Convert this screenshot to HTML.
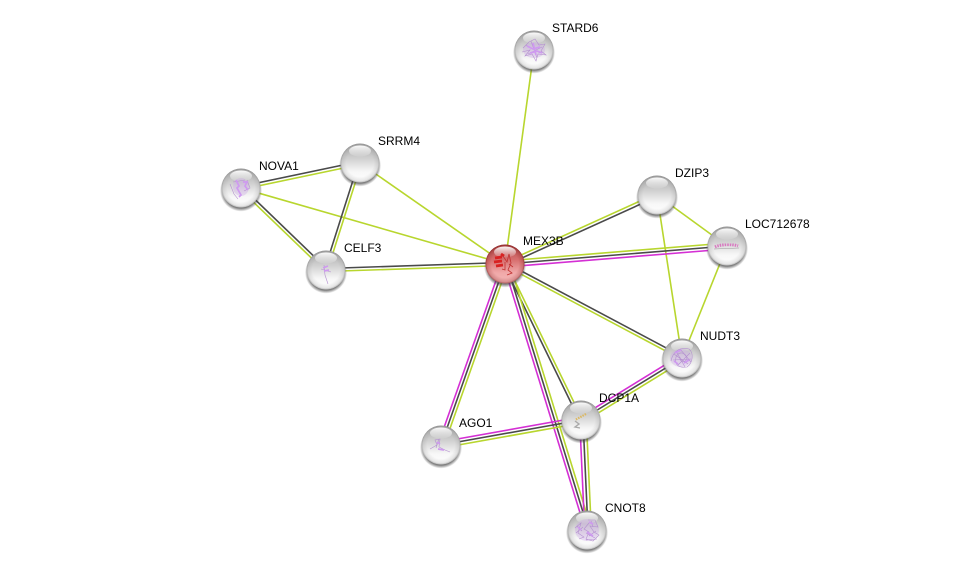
<!DOCTYPE html>
<html><head><meta charset="utf-8">
<style>
html,body{margin:0;padding:0;background:#fff;width:975px;height:575px;overflow:hidden}
svg{display:block}
text{font-family:"Liberation Sans",sans-serif;font-size:12px;fill:#000}
.g{stroke:#b8d62e}.d{stroke:#4a4a4a}.m{stroke:#d42fd4}
line{stroke-width:1.6;fill:none}
.p{fill:none;stroke:#b48fd0;stroke-width:.6}
.pb{fill:none;stroke:#cf9af0;stroke-width:1.7}
.bl{fill:#c8a4e4;opacity:.35}
.st{filter:url(#soft)}
</style></head><body>
<svg width="975" height="575" viewBox="0 0 975 575" xmlns="http://www.w3.org/2000/svg">
<defs>
<filter id="soft" x="-20%" y="-20%" width="140%" height="140%"><feGaussianBlur stdDeviation=".35"/></filter>
<linearGradient id="b" x1="0" y1="0" x2="0" y2="1">
<stop offset="0" stop-color="#a8a8a8"/><stop offset=".4" stop-color="#d2d2d2"/><stop offset=".72" stop-color="#f7f7f7"/><stop offset="1" stop-color="#ffffff"/>
</linearGradient>
<linearGradient id="r" x1="0" y1="0" x2="0" y2="1">
<stop offset="0" stop-color="#b04a4a"/><stop offset=".4" stop-color="#d87070"/><stop offset=".72" stop-color="#f0a8a8"/><stop offset="1" stop-color="#f4b8b8"/>
</linearGradient>
<radialGradient id="rim" cx="50%" cy="50%" r="50%">
<stop offset=".7" stop-color="#888" stop-opacity="0"/><stop offset=".92" stop-color="#888" stop-opacity=".2"/><stop offset="1" stop-color="#777" stop-opacity=".55"/>
</radialGradient>
<radialGradient id="rimr" cx="50%" cy="50%" r="50%">
<stop offset=".7" stop-color="#801818" stop-opacity="0"/><stop offset=".92" stop-color="#801818" stop-opacity=".25"/><stop offset="1" stop-color="#701010" stop-opacity=".6"/>
</radialGradient>
<linearGradient id="h" x1="0" y1="0" x2="0" y2="1">
<stop offset="0" stop-color="#fff" stop-opacity=".95"/><stop offset="1" stop-color="#fff" stop-opacity=".08"/>
</linearGradient>
<radialGradient id="s" cx="50%" cy="50%" r="50%">
<stop offset=".84" stop-color="#444" stop-opacity=".7"/><stop offset="1" stop-color="#444" stop-opacity="0"/>
</radialGradient>
<g id="sphere">
<circle cx="0" cy="2.5" r="21" fill="url(#s)"/>
<circle r="19.5" fill="url(#b)"/>
<circle r="19.5" fill="url(#rim)"/>
<ellipse cx="0" cy="-12" rx="11" ry="5.5" fill="url(#h)"/>
</g>
<g id="redsphere">
<circle cx="0" cy="2.5" r="21" fill="url(#s)"/>
<circle r="19.5" fill="url(#r)"/>
<circle r="19.5" fill="url(#rimr)"/>
<ellipse cx="0" cy="-12" rx="11" ry="5.5" fill="url(#h)"/>
</g>
</defs>

<!-- single -->
<line class="g" x1="505" y1="264" x2="534" y2="50"/>
<line class="g" x1="360" y1="163" x2="505" y2="264"/>
<line class="g" x1="241" y1="188" x2="505" y2="264"/>
<line class="g" x1="657" y1="195" x2="727" y2="246"/>
<line class="g" x1="657" y1="195" x2="682" y2="358"/>
<line class="g" x1="727" y1="246" x2="682" y2="358"/>

<!-- NOVA1-SRRM4 -->
<line class="d" x1="240.7" y1="186.5" x2="359.7" y2="161.5"/>
<line class="g" x1="241.3" y1="189.5" x2="360.3" y2="164.5"/>
<!-- NOVA1-CELF3 -->
<line class="d" x1="242.1" y1="187" x2="327.1" y2="269"/>
<line class="g" x1="239.9" y1="189" x2="324.9" y2="271"/>
<!-- SRRM4-CELF3 -->
<line class="d" x1="358.6" y1="162.6" x2="324.6" y2="269.6"/>
<line class="g" x1="361.4" y1="163.4" x2="327.4" y2="270.4"/>
<!-- CELF3-MEX3B -->
<line class="d" x1="326" y1="268.5" x2="505" y2="262.5"/>
<line class="g" x1="326" y1="271.5" x2="505" y2="265.5"/>
<!-- MEX3B-DZIP3 -->
<line class="d" x1="505.6" y1="265.4" x2="657.6" y2="196.4"/>
<line class="g" x1="504.4" y1="262.6" x2="656.4" y2="193.6"/>
<!-- MEX3B-LOC -->
<line class="g" x1="504.8" y1="261" x2="726.8" y2="243"/>
<line class="d" x1="505" y1="264" x2="727" y2="246"/>
<line class="m" x1="505.2" y1="267" x2="727.2" y2="249"/>
<!-- MEX3B-NUDT3 -->
<line class="d" x1="505.7" y1="262.7" x2="682.7" y2="356.7"/>
<line class="g" x1="504.3" y1="265.3" x2="681.3" y2="359.3"/>
<!-- MEX3B-DCP1A -->
<line class="d" x1="503.7" y1="264.6" x2="579.7" y2="420.6"/>
<line class="g" x1="506.3" y1="263.4" x2="582.3" y2="419.4"/>
<!-- MEX3B-AGO1 -->
<line class="m" x1="502.2" y1="263" x2="438.2" y2="444"/>
<line class="d" x1="505" y1="264" x2="441" y2="445"/>
<line class="g" x1="507.8" y1="265" x2="443.8" y2="446"/>
<!-- MEX3B-CNOT8 -->
<line class="m" x1="503.6" y1="264.9" x2="585.6" y2="530.9"/>
<line class="d" x1="506.5" y1="264" x2="588.5" y2="530"/>
<line class="g" x1="509.4" y1="263.1" x2="591.4" y2="529.1"/>
<!-- DCP1A-CNOT8 -->
<line class="m" x1="579.7" y1="420" x2="584.7" y2="530"/>
<line class="d" x1="583" y1="420" x2="588" y2="530"/>
<line class="g" x1="586.3" y1="420" x2="591.3" y2="530"/>
<!-- AGO1-DCP1A -->
<line class="m" x1="440.5" y1="442" x2="580.5" y2="417"/>
<line class="d" x1="441" y1="445" x2="581" y2="420"/>
<line class="g" x1="441.5" y1="448" x2="581.5" y2="423"/>
<!-- DCP1A-NUDT3 -->
<line class="m" x1="579.4" y1="417.4" x2="680.4" y2="355.4"/>
<line class="d" x1="581" y1="420" x2="682" y2="358"/>
<line class="g" x1="582.6" y1="422.6" x2="683.6" y2="360.6"/>

<!-- nodes -->
<use href="#sphere" x="534" y="50"/>
<use href="#sphere" x="360" y="163"/>
<use href="#sphere" x="241" y="188"/>
<use href="#sphere" x="326" y="270"/>
<use href="#sphere" x="657" y="195"/>
<use href="#sphere" x="727" y="246"/>
<use href="#sphere" x="682" y="358"/>
<use href="#sphere" x="581" y="420"/>
<use href="#sphere" x="441" y="445"/>
<use href="#sphere" x="587" y="530"/>
<use href="#redsphere" x="505" y="264"/>

<!-- protein structures -->
<g class="st" transform="translate(534,50)">
<ellipse class="bl" cx="0" cy="0" rx="11" ry="8"/>
<path class="p" d="M-11,-2 L-5,-8 L1,-11 L5,-5 L11,-6 L7,1 L12,5 L4,4 L2,11 L-2,4 L-9,6 L-4,0 L-12,2 M-8,-5 L6,3 M-6,4 L8,-3 M-3,-9 L3,8"/>
<path class="pb" d="M-7,-4 L-1,-1 L6,-3 M-4,3 L3,1 L8,3 M-1,-7 L2,5"/>
</g>
<g class="st" transform="translate(241,188)">
<ellipse class="bl" cx="0" cy="-1" rx="8" ry="9"/>
<path class="p" d="M-11,-4 L-7,6 L-3,11 M6,-8 L9,0 L3,3 M-8,-6 L4,-8"/>
<path class="pb" d="M-5,-8 L-2,-2 L-4,0 L0,7 L-2,9 M2,-6 L6,-6 L4,-2 L7,2"/>
</g>
<g class="st" transform="translate(326,270)">
<path class="p" d="M-2,-5 L-1,5 L2,14 M-5,-1 L5,2"/>
<path class="pb" d="M-3,-2 L2,-4 M-2,1 L3,0"/>
</g>
<g class="st" transform="translate(727,246)">
<path fill="none" stroke="#d878c0" stroke-width="3" stroke-dasharray="1.5 1" d="M-12,1 C-6,-2 6,-2 11,0"/>
<path fill="none" stroke="#999" stroke-width=".6" d="M-13,3 L12,2"/>
</g>
<g class="st" transform="translate(682,358)">
<ellipse class="bl" cx="-1" cy="0" rx="11" ry="9"/>
<path class="p" d="M-11,3 C-9,-7 -2,-11 7,-9 C12,-5 11,5 5,9 C-2,10 -8,8 -6,-1 C-3,-7 3,-6 5,0 C3,6 -3,4 -2,-1"/>
<path class="p" d="M-8,-4 L6,6 M-4,7 L8,-5 M-9,2 L9,1 M-6,-7 L3,9 M-2,-9 L9,4"/>
<path class="pb" stroke-width="1" d="M-7,-5 L-1,-8 M-8,3 L-4,6 M2,5 L7,2"/>
</g>
<g class="st" transform="translate(581,420)">
<path fill="none" stroke="#dcb860" stroke-width="2.2" stroke-dasharray="1.5 1" d="M5,-6 L-6,0"/>
<path fill="none" stroke="#aaa" stroke-width="1.4" d="M-6,1 L-2,4 L-6,7 L-1,8"/>
</g>
<g class="st" transform="translate(441,445)">
<path class="p" d="M-11,4 L-4,0 L-6,-5 L-1,-6 L-2,2 L4,5 L9,7 M-2,-6 L-5,3"/>
<path class="pb" stroke-width="1.2" d="M-4,-3 L-1,-1 M-3,4 L3,5"/>
</g>
<g class="st" transform="translate(587,530)">
<ellipse class="bl" cx="0" cy="0" rx="12" ry="11"/>
<path class="p" d="M-12,-2 L-6,-7 L-9,3 L-3,7 L-8,9 M1,-10 L8,-10 L11,-3 L3,-4 L7,2 L12,5 L6,11 L-1,9 L2,2 L-3,-1 L2,-7"/>
<path class="p" d="M-10,-4 L-5,1 M4,-9 L6,-3 M-1,3 L8,8 M2,6 L9,1 M-1,10 L10,9 M-11,3 L-4,-3"/>
<path class="pb" stroke-width="1.2" d="M-9,-3 L-6,0 M2,-8 L6,-6 M0,2 L6,6"/>
</g>
<!-- red structure -->
<g class="st" transform="translate(505,264)">
<path fill="none" stroke="#d82020" stroke-width="2.8" d="M-10,-6 L-3,-7 M-11,-2 L-3,-3 M-9,2 L-2,1 M-4,-10 L-1,-8"/>
<path fill="none" stroke="#c03030" stroke-width=".8" d="M-2,-8 L2,-2 L4,-10 L6,-1 L3,6 L7,9 L2,11 M0,-2 L0,6 L-3,5 M4,0 L8,3"/>
</g>

<!-- labels -->
<text x="552" y="32">STARD6</text>
<text x="378" y="145">SRRM4</text>
<text x="259" y="170">NOVA1</text>
<text x="675" y="177">DZIP3</text>
<text x="745" y="228">LOC712678</text>
<text x="523" y="245">MEX3B</text>
<text x="344" y="252">CELF3</text>
<text x="700" y="340">NUDT3</text>
<text x="599" y="402">DCP1A</text>
<text x="459" y="427">AGO1</text>
<text x="605" y="512">CNOT8</text>
</svg>
</body></html>
